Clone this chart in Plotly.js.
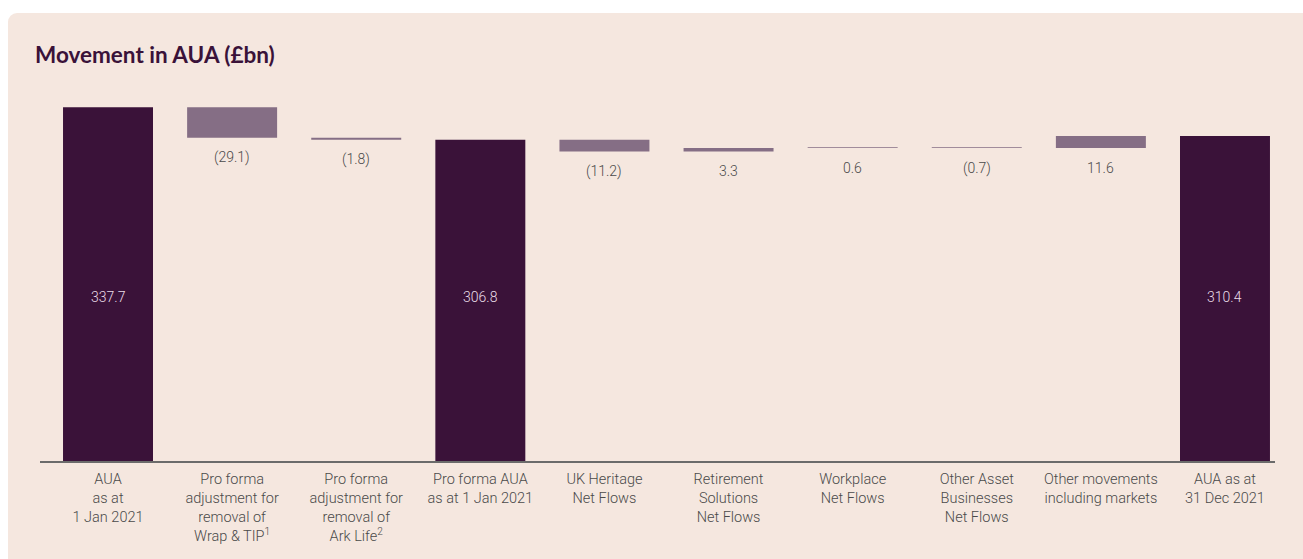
<!DOCTYPE html>
<html>
<head>
<meta charset="utf-8">
<script src="https://cdn.plot.ly/plotly-3.0.1.min.js"></script>
<style>
  html, body { margin: 0; padding: 0; background: #ffffff; overflow: hidden; }
  #panel { position: absolute; left: 8px; top: 13px; width: 1330px; height: 600px; background: #f5e7df; border-radius: 9px; }
  #chart { position: absolute; left: 0; top: 0; width: 1303px; height: 559px; }
</style>
</head>
<body>
<div id="panel"></div>
<div id="chart"></div>
<script>
// ---- Data ----
const categories = [
  "AUA<br>as at<br>1 Jan 2021",
  "Pro forma<br>adjustment for<br>removal of<br>Wrap &amp; TIP<sup>1</sup>",
  "Pro forma<br>adjustment for<br>removal of<br>Ark Life<sup>2</sup>",
  "Pro forma AUA<br>as at 1 Jan 2021",
  "UK Heritage<br>Net Flows",
  "Retirement<br>Solutions<br>Net Flows",
  "Workplace<br>Net Flows",
  "Other Asset<br>Businesses<br>Net Flows",
  "Other movements<br>including markets",
  "AUA as at<br>31 Dec 2021"
];
const measures = ["absolute", "relative", "relative", "total", "relative", "relative", "relative", "relative", "relative", "total"];
const values = [337.7, -29.1, -1.8, 306.8, -11.2, 3.3, 0.6, -0.7, 11.6, 310.4];

// ---- Style ----
const DARK = "#3a1239";
const MAUVE = "#856e85";
const xs = categories.map((_, i) => i);

function fmt(v) {
  const s = Math.abs(v).toFixed(1);
  return v < 0 ? "(" + s + ")" : s;
}

// cumulative positions for label placement
let running = 0;
const annotations = [];
values.forEach((v, i) => {
  if (measures[i] === "absolute") { running = v; }
  else if (measures[i] === "total") { running = running; }
  else {
    const start = running;
    running = running + v;
    const bottom = Math.min(start, running);
    annotations.push({
      x: xs[i], y: bottom, xref: "x", yref: "y",
      text: fmt(v), showarrow: false, yanchor: "middle", yshift: -20,
      font: { family: "Roboto", size: 14, color: "#4a4a4a", weight: 300 }
    });
    return;
  }
  annotations.push({
    x: xs[i], y: 0.435, xref: "x", yref: "paper",
    text: fmt(measures[i] === "total" ? running : v), showarrow: false, yanchor: "middle",
    font: { family: "Roboto", size: 14, color: "#eadfe9", weight: 300 }
  });
});

const trace = {
  type: "waterfall",
  x: xs,
  y: values.map((v, i) => measures[i] === "total" ? 0 : v),
  measure: measures,
  width: 0.725,
  connector: { visible: false },
  increasing: { marker: { color: MAUVE } },
  decreasing: { marker: { color: MAUVE } },
  totals: { marker: { color: DARK } },
  hoverinfo: "none",
  textinfo: "none"
};

const layout = {
  width: 1303, height: 559,
  margin: { l: 40, r: 28, t: 84, b: 98 },
  paper_bgcolor: "rgba(0,0,0,0)",
  plot_bgcolor: "rgba(0,0,0,0)",
  showlegend: false,
  title: {
    text: "Movement in AUA (£bn)",
    x: 35 / 1303, xref: "container", xanchor: "left",
    y: 1 - 55 / 559, yref: "container", yanchor: "middle",
    font: { family: "Lato", size: 22.5, color: DARK, weight: 700 }
  },
  xaxis: {
    range: [-0.548, 9.403],
    tickmode: "array", tickvals: xs, ticktext: categories,
    showgrid: false, zeroline: false,
    showline: true, linecolor: "#6b6b6b", linewidth: 2,
    ticks: "", ticklen: 0, ticklabelstandoff: 4,
    tickfont: { family: "Roboto", size: 14.5, color: "#4a4a4a", weight: 300 },
    fixedrange: true
  },
  yaxis: {
    range: [0, 360], visible: false, showgrid: false, zeroline: false, fixedrange: true
  },
  annotations: annotations
};

Plotly.newPlot("chart", [trace], layout, { displayModeBar: false, staticPlot: true });
</script>
</body>
</html>
